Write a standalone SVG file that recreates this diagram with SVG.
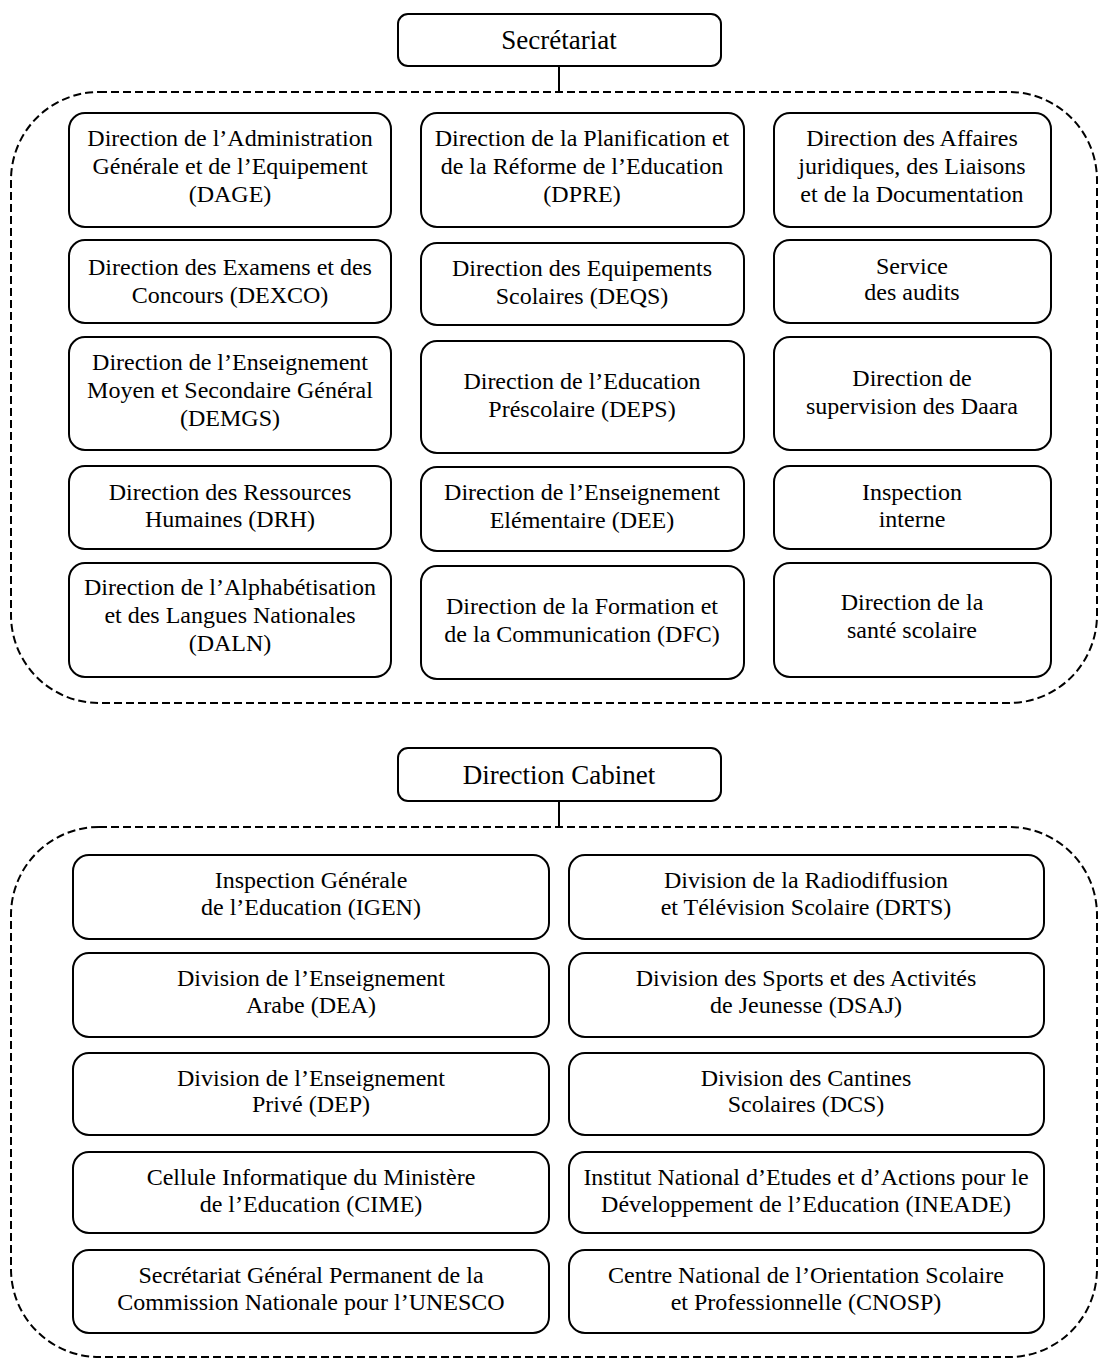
<svg xmlns="http://www.w3.org/2000/svg" width="1099" height="1360" viewBox="0 0 1099 1360">
<style>
.bg{fill:#fff}
.box{fill:#fff;stroke:#000;stroke-width:2}
.hdr{fill:#fff;stroke:#000;stroke-width:2}
.dash{fill:none;stroke:#000;stroke-width:2;stroke-dasharray:8 4}
.ln{stroke:#000;stroke-width:2;fill:none}
.t{font-family:'Liberation Serif','DejaVu Serif',serif;font-size:24px;fill:#000;text-anchor:middle}
.h{font-size:27px}
</style>
<rect class="bg" x="0" y="0" width="1099" height="1360"/>
<g id="containers">
<path id="container-secretariat" class="dash" d="M99,92 H1009 A88 88 0 0 1 1097 180 V615 A88 88 0 0 1 1009 703 H99 A88 88 0 0 1 11 615 V180 A88 88 0 0 1 99 92 Z"/>
<path id="container-cabinet" class="dash" d="M99,827 H1009 A88 88 0 0 1 1097 915 V1269 A88 88 0 0 1 1009 1357 H99 A88 88 0 0 1 11 1269 V915 A88 88 0 0 1 99 827 Z"/>
</g>
<g id="connectors">
<line class="ln" x1="559" y1="66" x2="559" y2="92"/>
<line class="ln" x1="559" y1="801" x2="559" y2="827"/>
</g>
<g class="t" font-family="Liberation Serif, DejaVu Serif, serif">
<g id="secretariat"><rect class="hdr" x="398" y="14" width="323" height="52" rx="10"/><text class="h" x="559" y="49">Secrétariat</text></g>

<g id="dage"><rect class="box" x="69" y="113" width="322" height="114" rx="16"/><text x="230" y="146">Direction de l’Administration</text><text x="230" y="174">Générale et de l’Equipement</text><text x="230" y="202">(DAGE)</text></g>
<g id="dpre"><rect class="box" x="421" y="113" width="323" height="114" rx="16"/><text x="582" y="146">Direction de la Planification et</text><text x="582" y="174">de la Réforme de l’Education</text><text x="582" y="202">(DPRE)</text></g>
<g id="dajld"><rect class="box" x="774" y="113" width="277" height="114" rx="16"/><text x="912" y="146">Direction des Affaires</text><text x="912" y="174">juridiques, des Liaisons</text><text x="912" y="202">et de la Documentation</text></g>

<g id="dexco"><rect class="box" x="69" y="240" width="322" height="83" rx="16"/><text x="230" y="275">Direction des Examens et des</text><text x="230" y="303">Concours (DEXCO)</text></g>
<g id="deqs"><rect class="box" x="421" y="243" width="323" height="82" rx="16"/><text x="582" y="276">Direction des Equipements</text><text x="582" y="304">Scolaires (DEQS)</text></g>
<g id="audits"><rect class="box" x="774" y="240" width="277" height="83" rx="16"/><text x="912" y="274">Service</text><text x="912" y="300">des audits</text></g>

<g id="demgs"><rect class="box" x="69" y="337" width="322" height="113" rx="16"/><text x="230" y="370">Direction de l’Enseignement</text><text x="230" y="398">Moyen et Secondaire Général</text><text x="230" y="426">(DEMGS)</text></g>
<g id="deps"><rect class="box" x="421" y="341" width="323" height="112" rx="16"/><text x="582" y="389">Direction de l’Education</text><text x="582" y="417">Préscolaire (DEPS)</text></g>
<g id="daara"><rect class="box" x="774" y="337" width="277" height="113" rx="16"/><text x="912" y="386">Direction de</text><text x="912" y="414">supervision des Daara</text></g>

<g id="drh"><rect class="box" x="69" y="466" width="322" height="83" rx="16"/><text x="230" y="500">Direction des Ressources</text><text x="230" y="527">Humaines (DRH)</text></g>
<g id="dee"><rect class="box" x="421" y="467" width="323" height="84" rx="16"/><text x="582" y="500">Direction de l’Enseignement</text><text x="582" y="528">Elémentaire (DEE)</text></g>
<g id="inspection-interne"><rect class="box" x="774" y="466" width="277" height="83" rx="16"/><text x="912" y="500">Inspection</text><text x="912" y="527">interne</text></g>

<g id="daln"><rect class="box" x="69" y="563" width="322" height="114" rx="16"/><text x="230" y="595">Direction de l’Alphabétisation</text><text x="230" y="623">et des Langues Nationales</text><text x="230" y="651">(DALN)</text></g>
<g id="dfc"><rect class="box" x="421" y="566" width="323" height="113" rx="16"/><text x="582" y="614">Direction de la Formation et</text><text x="582" y="642">de la Communication (DFC)</text></g>
<g id="sante"><rect class="box" x="774" y="563" width="277" height="114" rx="16"/><text x="912" y="610">Direction de la</text><text x="912" y="638">santé scolaire</text></g>

<g id="cabinet"><rect class="hdr" x="398" y="748" width="323" height="53" rx="10"/><text class="h" x="559" y="784">Direction Cabinet</text></g>

<g id="igen"><rect class="box" x="73" y="855" width="476" height="84" rx="16"/><text x="311" y="888">Inspection Générale</text><text x="311" y="915">de l’Education (IGEN)</text></g>
<g id="drts"><rect class="box" x="569" y="855" width="475" height="84" rx="16"/><text x="806" y="888">Division de la Radiodiffusion</text><text x="806" y="915">et Télévision Scolaire (DRTS)</text></g>
<g id="dea"><rect class="box" x="73" y="953" width="476" height="84" rx="16"/><text x="311" y="986">Division de l’Enseignement</text><text x="311" y="1013">Arabe (DEA)</text></g>
<g id="dsaj"><rect class="box" x="569" y="953" width="475" height="84" rx="16"/><text x="806" y="986">Division des Sports et des Activités</text><text x="806" y="1013">de Jeunesse (DSAJ)</text></g>
<g id="dep"><rect class="box" x="73" y="1053" width="476" height="82" rx="16"/><text x="311" y="1086">Division de l’Enseignement</text><text x="311" y="1112">Privé (DEP)</text></g>
<g id="dcs"><rect class="box" x="569" y="1053" width="475" height="82" rx="16"/><text x="806" y="1086">Division des Cantines</text><text x="806" y="1112">Scolaires (DCS)</text></g>
<g id="cime"><rect class="box" x="73" y="1152" width="476" height="81" rx="16"/><text x="311" y="1185">Cellule Informatique du Ministère</text><text x="311" y="1212">de l’Education (CIME)</text></g>
<g id="ineade"><rect class="box" x="569" y="1152" width="475" height="81" rx="16"/><text x="806" y="1185">Institut National d’Etudes et d’Actions pour le</text><text x="806" y="1212">Développement de l’Education (INEADE)</text></g>
<g id="unesco"><rect class="box" x="73" y="1250" width="476" height="83" rx="16"/><text x="311" y="1283">Secrétariat Général Permanent de la</text><text x="311" y="1310">Commission Nationale pour l’UNESCO</text></g>
<g id="cnosp"><rect class="box" x="569" y="1250" width="475" height="83" rx="16"/><text x="806" y="1283">Centre National de l’Orientation Scolaire</text><text x="806" y="1310">et Professionnelle (CNOSP)</text></g>
</g>
</svg>
